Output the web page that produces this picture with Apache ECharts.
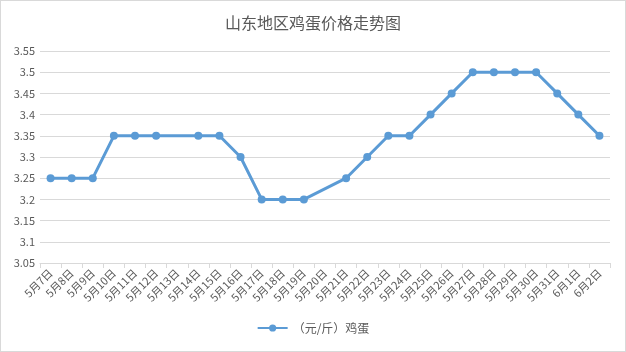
<!DOCTYPE html>
<html>
<head>
<meta charset="utf-8">
<script src="https://cdn.jsdelivr.net/npm/echarts@6/dist/echarts.min.js"></script>
<style>
  html, body { margin: 0; padding: 0; background: #fff; }
  #chart { width: 624px; height: 350px; border: 1px solid #d9d9d9; }
</style>
</head>
<body>
<div id="chart"></div>
<script>
// 日期（类目）
var dates = ['5月7日', '5月8日', '5月9日', '5月10日', '5月11日', '5月12日', '5月13日',
    '5月14日', '5月15日', '5月16日', '5月17日', '5月18日', '5月19日', '5月20日',
    '5月21日', '5月22日', '5月23日', '5月24日', '5月25日', '5月26日', '5月27日',
    '5月28日', '5月29日', '5月30日', '5月31日', '6月1日', '6月2日'];
// 鸡蛋价格（元/斤），5月13日和5月20日无数据
var eggPrice = [3.25, 3.25, 3.25, 3.35, 3.35, 3.35, null,
    3.35, 3.35, 3.3, 3.2, 3.2, 3.2, null,
    3.25, 3.3, 3.35, 3.35, 3.4, 3.45, 3.5,
    3.5, 3.5, 3.5, 3.45, 3.4, 3.35];

var chart = echarts.init(document.getElementById('chart'));
var font = '"Noto Sans CJK SC", sans-serif';
var option = {
    animation: false,
    title: {
        text: '山东地区鸡蛋价格走势图',
        left: 'center',
        top: 9,
        textStyle: { fontFamily: font, fontSize: 16, fontWeight: 'normal', color: '#595959' }
    },
    grid: { left: 39, right: 15, top: 50, bottom: 88 },
    legend: {
        bottom: 12,
        itemWidth: 30,
        itemHeight: 9,
        textStyle: { fontFamily: font, fontSize: 12, color: '#595959' },
        data: ['（元/斤）鸡蛋']
    },
    xAxis: {
        type: 'category',
        data: dates,
        boundaryGap: true,
        axisLine: { lineStyle: { color: '#d9d9d9' } },
        axisTick: { show: true, alignWithLabel: false, length: 5, lineStyle: { color: '#d9d9d9' } },
        axisLabel: { interval: 0, rotate: 45, fontFamily: font, fontSize: 11, color: '#595959', margin: 8 }
    },
    yAxis: {
        type: 'value',
        min: 3.05,
        max: 3.55,
        interval: 0.05,
        axisLine: { show: false },
        axisTick: { show: false },
        splitLine: { lineStyle: { color: '#d9d9d9' } },
        axisLabel: {
            fontFamily: font, fontSize: 11, color: '#595959', margin: 5,
            formatter: function (v) { return String(parseFloat(v.toFixed(2))); }
        }
    },
    series: [{
        name: '（元/斤）鸡蛋',
        type: 'line',
        data: eggPrice,
        connectNulls: true,
        symbol: 'circle',
        symbolSize: 8,
        itemStyle: { color: '#5b9bd5' },
        lineStyle: { color: '#5b9bd5', width: 3 }
    }]
};
chart.setOption(option);
window.onresize = chart.resize;
</script>
</body>
</html>
